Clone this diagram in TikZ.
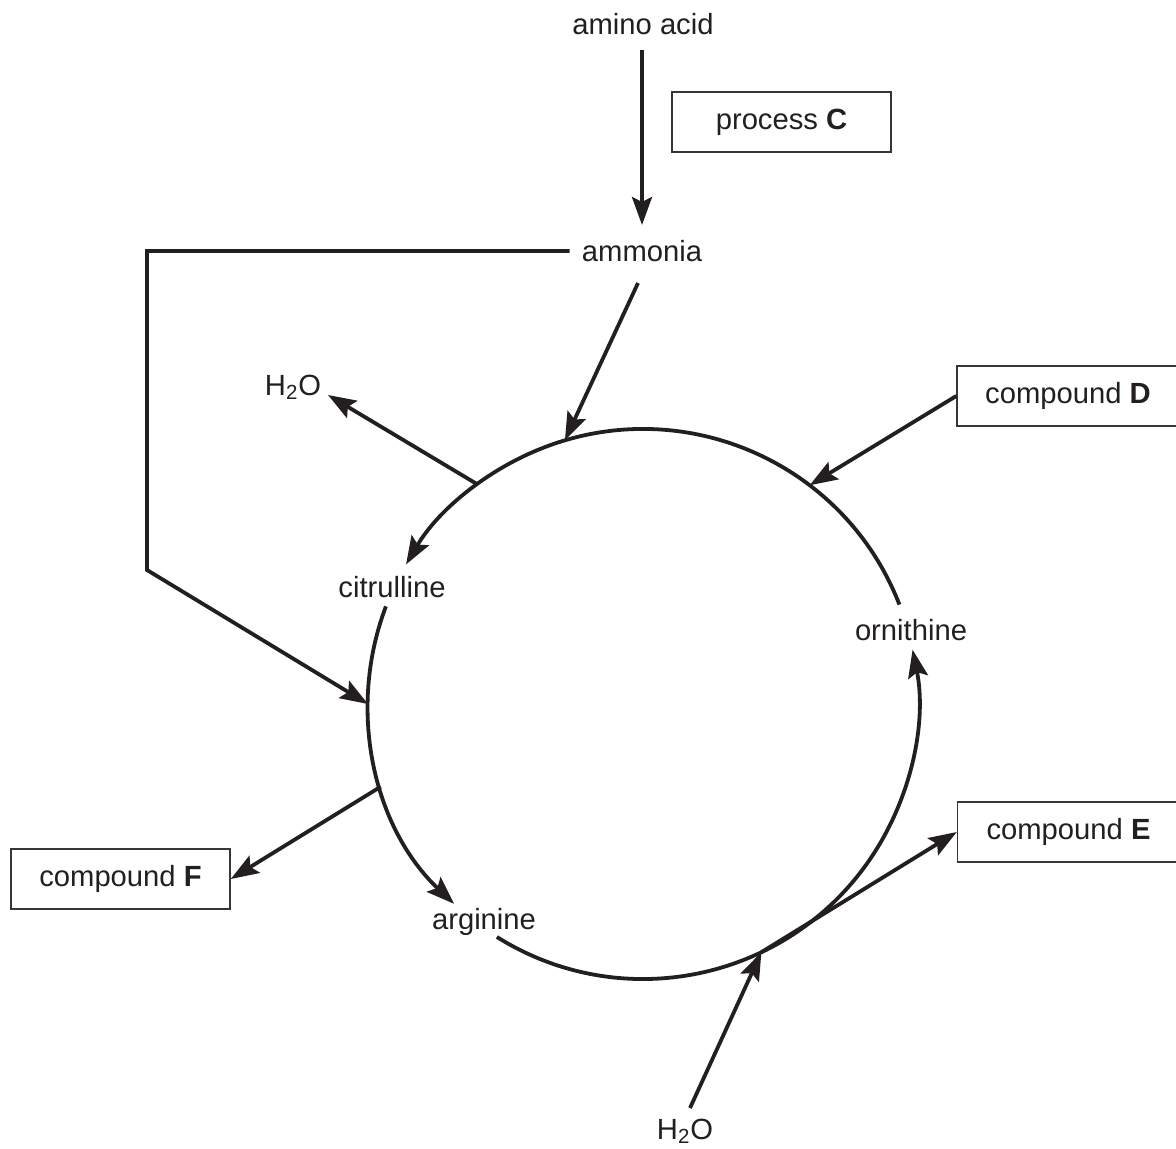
\documentclass[tikz,border=0pt]{standalone}
\usepackage{fontspec}
\setmainfont{Liberation Sans}
\usetikzlibrary{arrows.meta,calc}
\definecolor{ink}{HTML}{231F20}
\begin{document}
\begin{tikzpicture}[x=0.5pt,y=0.5pt,
  lbl/.style={inner sep=0pt, font=\fontsize{14.6}{17}\selectfont, text=ink},
  boxn/.style={lbl, draw=ink!90, line width=0.75pt, minimum width=109.5pt, minimum height=30pt},
  conn/.style={draw=ink, line width=1.9pt},
  arr/.style={conn, -{Stealth[length=14pt,width=10pt,inset=2.5pt]}},
]
\useasboundingbox (0,0) rectangle (1176,1148);
\fill[white] (0,0) rectangle (1176,1148);
\def\crad{275}
\coordinate (cen) at (643,444);

% labels and boxes
\node[lbl] (amino) at (643,1124) {amino acid};
\node[lbl] (ammonia) at (642,897) {ammonia};
\node[boxn] (procC) at (781.5,1026) {process \textbf{C}};
\node[boxn, minimum width=111pt] (cmpD) at (1068,752) {compound \textbf{D}};
\node[boxn, minimum width=111pt] (cmpE) at (1068.5,316) {compound \textbf{E}};
\node[boxn] (cmpF) at (120.5,269) {compound \textbf{F}};
\node[lbl] (cit) at (392,561) {citrulline};
\node[lbl] (arg) at (484,226) {arginine};
\node[lbl] (orn) at (911,518) {ornithine};
\node[lbl] (wA) at (293,761) {H\textsubscript{2}O};
\node[lbl] (wB) at (685,17) {H\textsubscript{2}O};

% points on the cycle
\coordinate (pAmm)  at ($(cen)+(106.5:\crad)$);
\coordinate (pD)    at ($(cen)+(52.7:\crad)$);
\coordinate (pWA)   at ($(cen)+(127:\crad)$);
\coordinate (pFeed) at ($(cen)+(180:\crad)$);
\coordinate (pF)    at ($(cen)+(197.5:\crad)$);
\coordinate (pE)    at ($(cen)+(295.5:\crad)$);

% free ends
\coordinate (aaS)  at (642,1098);
\coordinate (ammN) at (642,923);
\coordinate (ammS) at (638,865);
\coordinate (k1)   at (147,897);
\coordinate (k2)   at (147,578);
\coordinate (wAe)  at (328,753);
\coordinate (wBs)  at (690,40);

% connectors
\draw[arr] (aaS) -- (ammN);
\draw[arr] (ammS) -- (pAmm);
\draw[arr] ([xshift=-6pt]ammonia.west) -- (k1) -- (k2) -- (pFeed);
\draw[arr] (pWA) -- (wAe);
\draw[arr] (cmpD.west) -- (pD);
\draw[arr] (pF) -- (cmpF.east);
\draw[arr] (pE) -- (cmpE.west);
\draw[arr] (wBs) -- (pE);

% cycle arcs
\draw[arr] ($(cen)+(21.2:\crad)$) arc[start angle=21.2, end angle=149.5, radius=\crad];
\draw[arr] ($(cen)+(159.2:\crad)$) arc[start angle=159.2, end angle=226.6, radius=\crad];
\draw[arr] ($(cen)+(237.9:\crad)$) arc[start angle=237.9, end angle=371.4, radius=\crad];
\end{tikzpicture}
\end{document}
